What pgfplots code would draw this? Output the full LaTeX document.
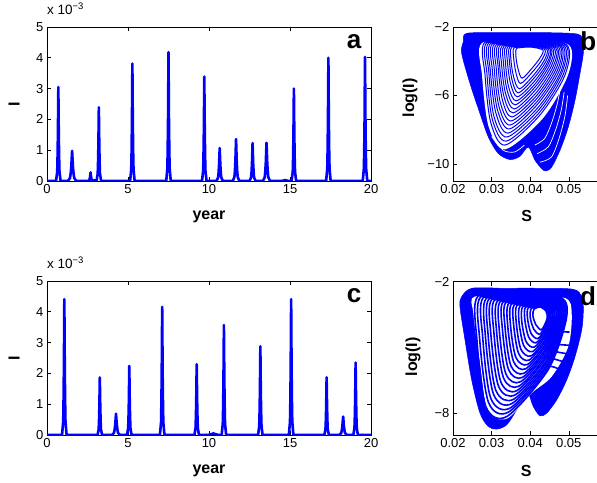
\documentclass[border=0pt]{standalone}
\usepackage{fontspec}
\setmainfont{Liberation Sans}
\usepackage{pgfplots}
\pgfplotsset{compat=1.18}
\definecolor{mblue}{RGB}{0,0,255}
\tikzset{letter/.style={font=\bfseries\fontsize{26}{26}\selectfont}}
\pgfplotsset{
  mystyle/.style={
    scale only axis,
    axis line style={line width=0.7pt},
    every tick/.style={black,line width=0.6pt},
    major tick length=4pt,
    tick align=inside,
    scaled ticks=false,
    /pgf/number format/assume math mode=true,
    tick label style={font=\fontsize{13}{15}\selectfont},
    every axis x label/.style={at={(axis description cs:0.5,0)},anchor=base,font=\bfseries\fontsize{16}{18}\selectfont},
    every axis y label/.style={at={(axis description cs:0,0.5)},anchor=center,font=\bfseries\fontsize{16}{18}\selectfont},
    title style={at={(axis description cs:0,1)},anchor=base west,yshift=6pt,inner sep=0pt,font=\fontsize{13.5}{15}\selectfont},
  },
  tser/.style={mblue,line width=2.6pt,line join=round},
  bl/.style={mblue,line width=1.0pt,smooth},
  dl/.style={mblue,line width=1.6pt,smooth},
  wl/.style={white,line width=0.7pt,smooth},
}
\begin{document}
\begin{tikzpicture}
\path[use as bounding box] (0,0) rectangle (597pt,482pt);
% ---------------- panel a
\begin{axis}[mystyle, at={(47pt,301pt)}, anchor=south west, width=324pt, height=154pt,
  xmin=0, xmax=20, ymin=0, ymax=5, xtick={0,5,10,15,20}, ytick={0,1,2,3,4,5},
  xlabel={year}, ylabel={I}, xlabel style={yshift=-39pt}, ylabel style={xshift=-33pt,rotate=90},
  title={x 10\textsuperscript{−3}}]
\addplot[tser] coordinates {
(0,0) (0.56,0) (0.63,0.305) (0.65,0.732) (0.672,1.464) (0.70,3.05) (0.728,1.464) (0.75,0.732) (0.77,0.305) (0.84,0)
(1.29,0) (1.42,0.098) (1.46,0.235) (1.50,0.470) (1.55,0.98) (1.60,0.470) (1.64,0.235) (1.68,0.098) (1.81,0)
(2.53,0) (2.61,0.028) (2.634,0.067) (2.658,0.134) (2.69,0.28) (2.722,0.134) (2.746,0.067) (2.77,0.028) (2.85,0.02)
(3.06,0.01) (3.13,0.239) (3.15,0.574) (3.172,1.147) (3.20,2.39) (3.228,1.147) (3.25,0.574) (3.27,0.239) (3.34,0)
(5.13,0) (5.20,0.381) (5.22,0.914) (5.242,1.829) (5.27,3.81) (5.298,1.829) (5.32,0.914) (5.34,0.381) (5.41,0)
(7.36,0) (7.43,0.418) (7.45,1.003) (7.472,2.006) (7.50,4.18) (7.528,2.006) (7.55,1.003) (7.57,0.418) (7.64,0)
(9.57,0) (9.64,0.339) (9.66,0.814) (9.682,1.627) (9.71,3.39) (9.738,1.627) (9.76,0.814) (9.78,0.339) (9.85,0)
(10.46,0) (10.56,0.107) (10.59,0.257) (10.62,0.514) (10.66,1.07) (10.70,0.514) (10.73,0.257) (10.76,0.107) (10.86,0)
(11.47,0) (11.57,0.136) (11.60,0.326) (11.63,0.653) (11.67,1.36) (11.71,0.653) (11.74,0.326) (11.77,0.136) (11.87,0)
(12.51,0) (12.60,0.123) (12.627,0.295) (12.654,0.590) (12.69,1.23) (12.726,0.590) (12.753,0.295) (12.78,0.123) (12.87,0)
(13.33,0) (13.44,0.124) (13.473,0.298) (13.506,0.595) (13.55,1.24) (13.594,0.595) (13.627,0.298) (13.66,0.124) (13.77,0)
(14.5,0) (14.7,0.03) (14.9,0)
(15.10,0) (15.17,0.30) (15.19,0.72) (15.212,1.44) (15.24,3.0) (15.268,1.44) (15.29,0.72) (15.31,0.30) (15.38,0)
(17.23,0) (17.30,0.40) (17.32,0.96) (17.342,1.92) (17.37,4.0) (17.398,1.92) (17.42,0.96) (17.44,0.40) (17.51,0)
(19.49,0) (19.56,0.403) (19.58,0.967) (19.602,1.934) (19.63,4.03) (19.658,1.934) (19.68,0.967) (19.70,0.403) (19.77,0) (20,0)
};
\node[letter] at (rel axis cs:0.948,0.903) {a};
\end{axis}
% ---------------- panel c
\begin{axis}[mystyle, at={(47pt,47pt)}, anchor=south west, width=324pt, height=154pt,
  xmin=0, xmax=20, ymin=0, ymax=5, xtick={0,5,10,15,20}, ytick={0,1,2,3,4,5},
  xlabel={year}, ylabel={I}, xlabel style={yshift=-38pt}, ylabel style={xshift=-33pt,rotate=90},
  title={x 10\textsuperscript{−3}}]
\addplot[tser] coordinates {
(0,0) (0.93,0) (1.00,0.441) (1.02,1.058) (1.042,2.117) (1.07,4.41) (1.098,2.117) (1.12,1.058) (1.14,0.441) (1.21,0)
(3.12,0) (3.19,0.187) (3.21,0.449) (3.232,0.898) (3.26,1.87) (3.288,0.898) (3.31,0.449) (3.33,0.187) (3.40,0)
(4.01,0) (4.135,0.069) (4.17,0.166) (4.21,0.331) (4.26,0.69) (4.31,0.331) (4.35,0.166) (4.385,0.069) (4.51,0)
(4.94,0) (5.01,0.224) (5.03,0.538) (5.052,1.075) (5.08,2.24) (5.108,1.075) (5.13,0.538) (5.15,0.224) (5.22,0)
(6.97,0) (7.04,0.416) (7.06,0.998) (7.082,1.997) (7.11,4.16) (7.138,1.997) (7.16,0.998) (7.18,0.416) (7.25,0)
(9.10,0) (9.17,0.23) (9.19,0.552) (9.212,1.104) (9.24,2.30) (9.268,1.104) (9.29,0.552) (9.31,0.23) (9.38,0)
(9.97,0) (10.27,0.05) (10.57,0)
(10.78,0) (10.85,0.357) (10.87,0.857) (10.892,1.714) (10.92,3.57) (10.948,1.714) (10.97,0.857) (10.99,0.357) (11.06,0)
(13.03,0) (13.10,0.288) (13.12,0.691) (13.142,1.382) (13.17,2.88) (13.198,1.382) (13.22,0.691) (13.24,0.288) (13.31,0)
(14.93,0) (15.00,0.441) (15.02,1.058) (15.042,2.117) (15.07,4.41) (15.098,2.117) (15.12,1.058) (15.14,0.441) (15.21,0)
(17.12,0) (17.19,0.187) (17.21,0.449) (17.232,0.898) (17.26,1.87) (17.288,0.898) (17.31,0.449) (17.33,0.187) (17.40,0)
(18.04,0) (18.16,0.06) (18.196,0.144) (18.232,0.288) (18.28,0.60) (18.328,0.288) (18.364,0.144) (18.40,0.06) (18.52,0)
(18.91,0) (18.98,0.235) (19.00,0.564) (19.022,1.128) (19.05,2.35) (19.078,1.128) (19.10,0.564) (19.12,0.235) (19.19,0) (20,0)
};
\node[letter] at (rel axis cs:0.948,0.904) {c};
\end{axis}
% ---------------- panel b
\begin{axis}[mystyle, at={(453pt,301pt)}, anchor=south west, width=154.4pt, height=154pt,
  xmin=0.02, xmax=0.06, ymin=-11, ymax=-2,
  xtick={0.02,0.03,0.04,0.05}, xticklabels={0.02,0.03,0.04,0.05},
  ytick={-10,-6,-2}, yticklabels={−10,−6,−2},
  xlabel={S}, ylabel={log(I)},
  xlabel style={at={(axis description cs:0.477,0)},yshift=-41pt},
  ylabel style={at={(axis description cs:0,0.54)},xshift=-43pt,rotate=90}]
\addplot[fill=mblue, draw=mblue, line width=0.5pt, smooth] coordinates {
(0.02355,-2.369) (0.03218,-2.334) (0.04513,-2.334) (0.05246,-2.427) (0.05360,-2.861) (0.05376,-3.540) (0.05290,-4.711) (0.05161,-6.274) (0.04987,-7.837) (0.04772,-9.201) (0.04557,-10.179) (0.04402,-10.413) (0.04298,-10.273) (0.04124,-9.787) (0.03951,-9.008) (0.03736,-9.553) (0.03477,-9.746) (0.03174,-9.395) (0.02915,-8.423) (0.02699,-7.053) (0.02440,-5.296) (0.02225,-3.540) (0.02267,-2.861) (0.02355,-2.369) (0.03218,-2.334)
};
\addplot[fill=white, draw=none, smooth] coordinates {
(0.02751,-2.937) (0.03917,-2.820) (0.05005,-3.054) (0.04979,-4.810) (0.04332,-7.328) (0.0335,-9.15) (0.0292,-7.8) (0.02751,-4.810) (0.02751,-2.937) (0.03917,-2.820)
};
% ladder-like gaps in the right lobe
\addplot[wl] coordinates {(0.0425,-9.90) (0.0455,-9.60) (0.0475,-8.50) (0.0490,-7.20) (0.0497,-6.00)};
\addplot[wl] coordinates {(0.0418,-9.40) (0.0447,-9.00) (0.0466,-8.00) (0.0480,-6.90) (0.0488,-5.80)};
\addplot[wl] coordinates {(0.0412,-8.90) (0.0438,-8.50) (0.0457,-7.50) (0.0470,-6.50) (0.0478,-5.60)};
\addplot[wl] coordinates {(0.0300,-8.40) (0.0330,-9.20) (0.0360,-9.30) (0.0385,-8.90)};
\addplot[bl] coordinates {(0.0283,-2.88) (0.0392,-2.76) (0.0495,-3.05) (0.0490,-4.81) (0.0425,-7.15) (0.0335,-8.90) (0.0298,-7.60) (0.0283,-4.81) (0.0283,-2.88) (0.0392,-2.76)};
\addplot[bl] coordinates {(0.0288,-2.90) (0.0392,-2.79) (0.0492,-3.07) (0.0486,-4.75) (0.0424,-6.99) (0.0338,-8.67) (0.0302,-7.41) (0.0288,-4.74) (0.0288,-2.90) (0.0392,-2.79)};
\addplot[bl] coordinates {(0.0293,-2.92) (0.0393,-2.81) (0.0488,-3.09) (0.0482,-4.69) (0.0423,-6.82) (0.0340,-8.43) (0.0306,-7.22) (0.0293,-4.68) (0.0293,-2.92) (0.0393,-2.81)};
\addplot[bl] coordinates {(0.0298,-2.94) (0.0393,-2.84) (0.0484,-3.11) (0.0479,-4.63) (0.0422,-6.66) (0.0343,-8.20) (0.0311,-7.02) (0.0297,-4.61) (0.0298,-2.94) (0.0393,-2.84)};
\addplot[bl] coordinates {(0.0303,-2.96) (0.0394,-2.86) (0.0480,-3.12) (0.0475,-4.57) (0.0420,-6.49) (0.0346,-7.96) (0.0315,-6.83) (0.0302,-4.54) (0.0303,-2.96) (0.0394,-2.86)};
\addplot[bl] coordinates {(0.0308,-2.98) (0.0394,-2.88) (0.0477,-3.14) (0.0471,-4.51) (0.0419,-6.33) (0.0348,-7.73) (0.0319,-6.64) (0.0307,-4.48) (0.0308,-2.98) (0.0394,-2.88)};
\addplot[bl] coordinates {(0.0313,-3.01) (0.0395,-2.91) (0.0473,-3.16) (0.0467,-4.45) (0.0418,-6.16) (0.0351,-7.49) (0.0323,-6.45) (0.0312,-4.41) (0.0313,-3.01) (0.0395,-2.91)};
\addplot[bl] coordinates {(0.0318,-3.03) (0.0395,-2.93) (0.0469,-3.18) (0.0463,-4.39) (0.0417,-6.00) (0.0353,-7.26) (0.0328,-6.26) (0.0317,-4.34) (0.0318,-3.03) (0.0395,-2.93)};
\addplot[bl] coordinates {(0.0323,-3.05) (0.0395,-2.96) (0.0466,-3.20) (0.0459,-4.33) (0.0416,-5.83) (0.0356,-7.02) (0.0332,-6.06) (0.0321,-4.28) (0.0323,-3.05) (0.0395,-2.96)};
\addplot[bl] coordinates {(0.0328,-3.07) (0.0396,-2.98) (0.0462,-3.21) (0.0455,-4.27) (0.0414,-5.67) (0.0359,-6.79) (0.0336,-5.87) (0.0326,-4.21) (0.0328,-3.07) (0.0396,-2.98)};
\addplot[bl] coordinates {(0.0333,-3.09) (0.0396,-3.01) (0.0458,-3.23) (0.0451,-4.21) (0.0413,-5.50) (0.0361,-6.55) (0.0340,-5.68) (0.0331,-4.14) (0.0333,-3.09) (0.0396,-3.01)};
\addplot[bl] coordinates {(0.0338,-3.11) (0.0397,-3.03) (0.0454,-3.25) (0.0447,-4.15) (0.0412,-5.34) (0.0364,-6.32) (0.0344,-5.49) (0.0336,-4.08) (0.0338,-3.11) (0.0397,-3.03)};
\addplot[bl] coordinates {(0.0343,-3.13) (0.0397,-3.06) (0.0451,-3.27) (0.0444,-4.09) (0.0411,-5.17) (0.0367,-6.08) (0.0349,-5.30) (0.0341,-4.01) (0.0343,-3.13) (0.0397,-3.06)};
\addplot[bl] coordinates {(0.0348,-3.15) (0.0398,-3.08) (0.0447,-3.28) (0.0440,-4.03) (0.0409,-5.01) (0.0369,-5.85) (0.0353,-5.10) (0.0346,-3.94) (0.0348,-3.15) (0.0398,-3.08)};
\addplot[bl] coordinates {(0.0353,-3.17) (0.0398,-3.10) (0.0443,-3.30) (0.0436,-3.97) (0.0408,-4.84) (0.0372,-5.61) (0.0357,-4.91) (0.0350,-3.88) (0.0353,-3.17) (0.0398,-3.10)};
\addplot[bl] coordinates {(0.0359,-3.20) (0.0399,-3.14) (0.0438,-3.32) (0.0431,-3.89) (0.0406,-4.62) (0.0375,-5.30) (0.0363,-4.66) (0.0357,-3.79) (0.0359,-3.20) (0.0399,-3.14)};
\addplot[bl] coordinates {(0.0366,-3.23) (0.0400,-3.17) (0.0433,-3.35) (0.0425,-3.82) (0.0405,-4.40) (0.0379,-4.99) (0.0368,-4.40) (0.0363,-3.70) (0.0366,-3.23) (0.0400,-3.17)};
\node[letter] at (rel axis cs:0.876,0.905) {b};
\end{axis}
% ---------------- panel d
\begin{axis}[mystyle, at={(453pt,47pt)}, anchor=south west, width=154.4pt, height=153.3pt,
  xmin=0.02, xmax=0.06, ymin=-9, ymax=-2,
  xtick={0.02,0.03,0.04,0.05}, xticklabels={0.02,0.03,0.04,0.05},
  ytick={-8,-2}, yticklabels={−8,−2},
  xlabel={S}, ylabel={log(I)},
  xlabel style={at={(axis description cs:0.474,0)},yshift=-41pt},
  ylabel style={at={(axis description cs:0,0.51)},xshift=-40pt,rotate=90}]
\addplot[fill=mblue, draw=mblue, line width=0.5pt, smooth] coordinates {
(0.02484,-2.301) (0.03218,-2.301) (0.04254,-2.301) (0.05117,-2.347) (0.05334,-2.684) (0.05376,-3.290) (0.05334,-4.202) (0.05161,-5.420) (0.04946,-6.482) (0.04687,-7.394) (0.04427,-8.001) (0.04254,-8.124) (0.04080,-7.700) (0.03909,-7.016) (0.03650,-7.850) (0.03391,-8.534) (0.03132,-8.731) (0.02915,-8.612) (0.02699,-8.001) (0.02484,-6.482) (0.02311,-4.658) (0.02181,-3.140) (0.02225,-2.684) (0.02484,-2.301) (0.03218,-2.301)
};
\addplot[fill=white, draw=none, smooth] coordinates {
(0.02570,-2.68) (0.03780,-2.61) (0.04902,-2.75) (0.05075,-3.441) (0.04987,-4.964) (0.04557,-6.332) (0.04039,-7.089) (0.0340,-8.25) (0.0290,-7.9) (0.02699,-5.721) (0.02526,-3.441) (0.02570,-2.68) (0.03780,-2.61)
};
% near-horizontal strands on the right
\addplot[dl] coordinates {(0.0440,-4.00) (0.0470,-4.25) (0.0502,-4.30)};
\addplot[dl] coordinates {(0.0440,-4.60) (0.0470,-4.85) (0.0503,-4.90)};
\addplot[dl] coordinates {(0.0438,-5.00) (0.0468,-5.20) (0.0500,-5.30)};
\addplot[dl] coordinates {(0.0436,-5.40) (0.0466,-5.55) (0.0495,-5.70)};
\addplot[dl] coordinates {(0.0434,-5.80) (0.0462,-5.90) (0.0488,-6.10)};
\addplot[dl] coordinates {(0.0265,-2.65) (0.0379,-2.56) (0.0482,-2.74) (0.0493,-3.75) (0.0446,-6.03) (0.0340,-8.15) (0.0285,-7.70) (0.0262,-4.66) (0.0265,-2.65) (0.0379,-2.56)};
\addplot[dl] coordinates {(0.0272,-2.68) (0.0381,-2.59) (0.0480,-2.77) (0.0490,-3.74) (0.0446,-5.93) (0.0344,-7.95) (0.0292,-7.51) (0.0269,-4.60) (0.0272,-2.68) (0.0381,-2.59)};
\addplot[dl] coordinates {(0.0279,-2.71) (0.0383,-2.62) (0.0478,-2.80) (0.0488,-3.74) (0.0445,-5.83) (0.0349,-7.76) (0.0298,-7.33) (0.0277,-4.55) (0.0279,-2.71) (0.0383,-2.62)};
\addplot[dl] coordinates {(0.0287,-2.74) (0.0386,-2.65) (0.0476,-2.83) (0.0485,-3.73) (0.0445,-5.73) (0.0353,-7.56) (0.0305,-7.14) (0.0284,-4.49) (0.0287,-2.74) (0.0386,-2.65)};
\addplot[dl] coordinates {(0.0294,-2.77) (0.0388,-2.68) (0.0474,-2.86) (0.0483,-3.73) (0.0444,-5.63) (0.0358,-7.36) (0.0311,-6.96) (0.0291,-4.44) (0.0294,-2.77) (0.0388,-2.68)};
\addplot[dl] coordinates {(0.0301,-2.80) (0.0390,-2.71) (0.0472,-2.89) (0.0480,-3.72) (0.0444,-5.53) (0.0362,-7.16) (0.0318,-6.77) (0.0298,-4.38) (0.0301,-2.80) (0.0390,-2.71)};
\addplot[dl] coordinates {(0.0308,-2.83) (0.0393,-2.74) (0.0470,-2.92) (0.0478,-3.72) (0.0443,-5.42) (0.0366,-6.97) (0.0324,-6.58) (0.0306,-4.33) (0.0308,-2.83) (0.0393,-2.74)};
\addplot[dl] coordinates {(0.0316,-2.86) (0.0395,-2.77) (0.0468,-2.95) (0.0476,-3.71) (0.0443,-5.32) (0.0371,-6.77) (0.0331,-6.40) (0.0313,-4.28) (0.0316,-2.86) (0.0395,-2.77)};
\addplot[dl] coordinates {(0.0323,-2.89) (0.0397,-2.80) (0.0466,-2.98) (0.0473,-3.71) (0.0442,-5.22) (0.0375,-6.57) (0.0337,-6.21) (0.0320,-4.22) (0.0323,-2.89) (0.0397,-2.80)};
\addplot[dl] coordinates {(0.0330,-2.92) (0.0400,-2.83) (0.0464,-3.01) (0.0471,-3.71) (0.0441,-5.12) (0.0380,-6.37) (0.0344,-6.02) (0.0328,-4.17) (0.0330,-2.92) (0.0400,-2.83)};
\addplot[dl] coordinates {(0.0337,-2.95) (0.0402,-2.86) (0.0462,-3.04) (0.0468,-3.70) (0.0441,-5.02) (0.0384,-6.18) (0.0350,-5.84) (0.0335,-4.11) (0.0337,-2.95) (0.0402,-2.86)};
\addplot[dl] coordinates {(0.0345,-2.98) (0.0404,-2.89) (0.0460,-3.07) (0.0466,-3.70) (0.0440,-4.92) (0.0388,-5.98) (0.0357,-5.65) (0.0342,-4.06) (0.0345,-2.98) (0.0404,-2.89)};
\addplot[dl] coordinates {(0.0352,-3.01) (0.0407,-2.92) (0.0457,-3.10) (0.0463,-3.69) (0.0440,-4.82) (0.0393,-5.78) (0.0363,-5.46) (0.0349,-4.00) (0.0352,-3.01) (0.0407,-2.92)};
\addplot[dl] coordinates {(0.0359,-3.04) (0.0409,-2.95) (0.0455,-3.13) (0.0461,-3.69) (0.0439,-4.72) (0.0397,-5.58) (0.0370,-5.28) (0.0357,-3.95) (0.0359,-3.04) (0.0409,-2.95)};
\addplot[dl] coordinates {(0.0366,-3.07) (0.0411,-2.98) (0.0453,-3.16) (0.0458,-3.68) (0.0439,-4.62) (0.0402,-5.39) (0.0376,-5.09) (0.0364,-3.89) (0.0366,-3.07) (0.0411,-2.98)};
\addplot[dl] coordinates {(0.0374,-3.10) (0.0414,-3.01) (0.0451,-3.19) (0.0456,-3.68) (0.0438,-4.52) (0.0406,-5.19) (0.0383,-4.91) (0.0371,-3.84) (0.0374,-3.10) (0.0414,-3.01)};
\addplot[dl] coordinates {(0.0381,-3.13) (0.0416,-3.04) (0.0449,-3.22) (0.0453,-3.67) (0.0438,-4.42) (0.0410,-4.99) (0.0389,-4.72) (0.0378,-3.78) (0.0381,-3.13) (0.0416,-3.04)};
\addplot[dl] coordinates {(0.0388,-3.16) (0.0418,-3.07) (0.0447,-3.25) (0.0451,-3.67) (0.0437,-4.32) (0.0415,-4.79) (0.0396,-4.53) (0.0386,-3.73) (0.0388,-3.16) (0.0418,-3.07)};
\addplot[dl] coordinates {(0.0395,-3.19) (0.0421,-3.09) (0.0445,-3.28) (0.0448,-3.66) (0.0437,-4.22) (0.0419,-4.60) (0.0402,-4.35) (0.0393,-3.67) (0.0395,-3.19) (0.0421,-3.09)};
\addplot[dl] coordinates {(0.0403,-3.22) (0.0423,-3.12) (0.0443,-3.31) (0.0446,-3.66) (0.0436,-4.12) (0.0424,-4.40) (0.0409,-4.16) (0.0400,-3.62) (0.0403,-3.22) (0.0423,-3.12)};
\addplot[dl] coordinates {(0.0410,-3.25) (0.0425,-3.15) (0.0441,-3.34) (0.0444,-3.66) (0.0436,-4.02) (0.0428,-4.20) (0.0415,-3.97) (0.0407,-3.56) (0.0410,-3.25) (0.0425,-3.15)};
\node[letter] at (rel axis cs:0.874,0.907) {d};
\end{axis}
\end{tikzpicture}
\end{document}
